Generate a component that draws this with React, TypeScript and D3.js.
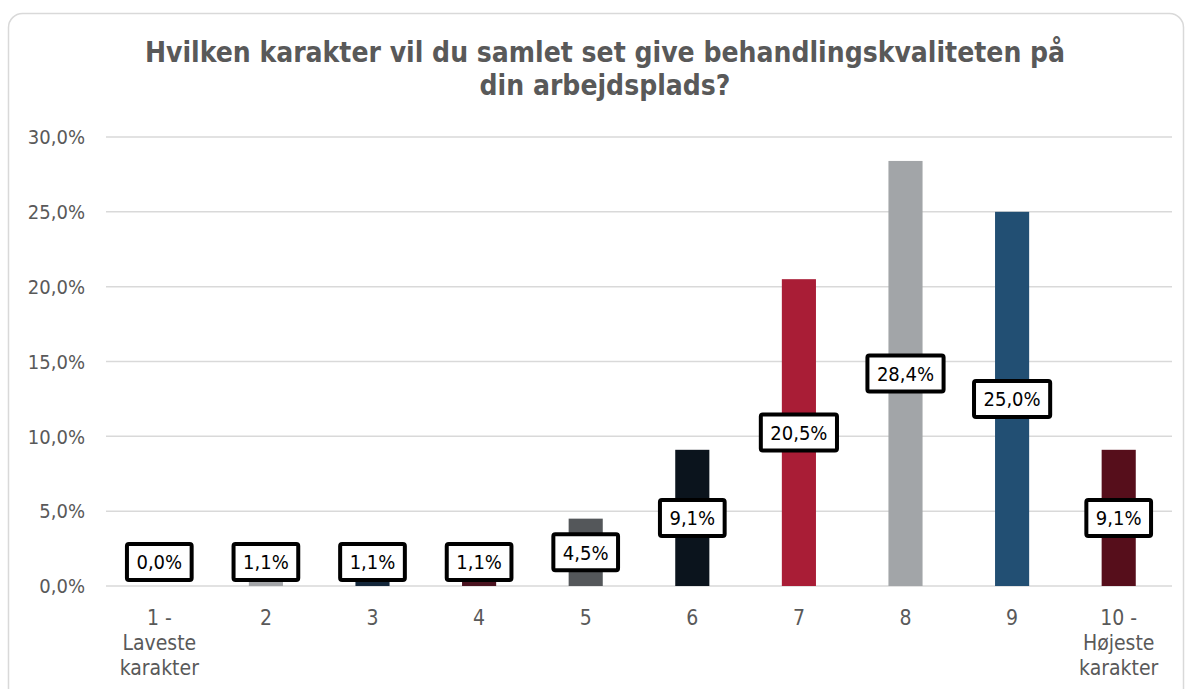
import React, { useEffect, useRef } from "react";
import * as d3 from "d3";

const categories = ["1 -\nLaveste\nkarakter", "2", "3", "4", "5", "6", "7", "8", "9", "10 -\nHøjeste\nkarakter"];
const values = [0.0, 1.1, 1.1, 1.1, 4.5, 9.1, 20.5, 28.4, 25.0, 9.1];
const barColors = ["#7f7f7f", "#a3a5a8", "#13263a", "#4a1320", "#54575a", "#0b141d", "#a91d36", "#a2a5a8", "#224f73", "#560e1b"];
const yTicks = [0, 5, 10, 15, 20, 25, 30];
const titleLines = ["Hvilken karakter vil du samlet set give behandlingskvaliteten på", "din arbejdsplads?"];

const W = 1186;
const H = 689;
const FONT = "'DejaVu Sans Condensed', 'DejaVu Sans', sans-serif";

export default function App() {
  const ref = useRef<SVGSVGElement | null>(null);

  useEffect(() => {
    const svg = d3.select(ref.current);
    svg.selectAll("*").remove();

    const x = d3.scaleBand<string>().domain(categories).range([106, 1172]).padding(0);
    const y = d3.scaleLinear().domain([0, 30]).range([586, 137]);
    const barW = x.bandwidth() * 0.32;

    svg.append("rect").attr("x", 0).attr("y", 0).attr("width", W).attr("height", H).attr("fill", "#ffffff");
    svg.append("rect")
      .attr("x", 8.5).attr("y", 13.5).attr("width", 1175).attr("height", 720)
      .attr("rx", 14).attr("fill", "#ffffff").attr("stroke", "#d9d9d9").attr("stroke-width", 1.5);

    // title
    const title = svg.append("text")
      .attr("text-anchor", "middle")
      .attr("font-family", FONT).attr("font-weight", "bold").attr("font-size", 28)
      .attr("fill", "#595959");
    titleLines.forEach((t, i) => {
      title.append("tspan").attr("x", 605).attr("y", 62 + i * 33).text(t);
    });

    // gridlines
    svg.append("g").selectAll("line").data(yTicks).join("line")
      .attr("x1", 106).attr("x2", 1172)
      .attr("y1", (d) => y(d)).attr("y2", (d) => y(d))
      .attr("stroke", "#d9d9d9").attr("stroke-width", 1.5);

    // y tick labels
    svg.append("g").selectAll("text").data(yTicks).join("text")
      .attr("x", 85).attr("y", (d) => y(d))
      .attr("dy", "0.36em")
      .attr("text-anchor", "end")
      .attr("font-family", FONT).attr("font-size", 20).attr("fill", "#595959")
      .text((d) => d.toFixed(1).replace(".", ",") + "%");

    // bars
    svg.append("g").selectAll("rect").data(values).join("rect")
      .attr("x", (_, i) => (x(categories[i]) as number) + x.bandwidth() / 2 - barW / 2)
      .attr("width", barW)
      .attr("y", (d) => y(d))
      .attr("height", (d) => y(0) - y(d))
      .attr("fill", (_, i) => barColors[i]);

    // category labels
    const cat = svg.append("g");
    categories.forEach((c, i) => {
      const t = cat.append("text")
        .attr("text-anchor", "middle")
        .attr("font-family", FONT).attr("font-size", 21).attr("fill", "#595959");
      c.split("\n").forEach((line, j) => {
        t.append("tspan").attr("x", (x(c) as number) + x.bandwidth() / 2).attr("y", 625 + j * 25).text(line);
      });
    });

    // data labels
    const lbl = svg.append("g");
    values.forEach((v, i) => {
      const cx = (x(categories[i]) as number) + x.bandwidth() / 2;
      const cy = Math.min(y(v / 2), y(0) - 24);
      const g = lbl.append("g");
      const rect = g.append("rect");
      const txt = g.append("text")
        .attr("x", cx).attr("y", cy).attr("dy", "0.36em")
        .attr("text-anchor", "middle")
        .attr("font-family", FONT).attr("font-size", 20).attr("fill", "#000000")
        .text(v.toFixed(1).replace(".", ",") + "%");
      const tw = (txt.node() as SVGTextElement).getComputedTextLength();
      const bw = tw + 19;
      const bh = 36;
      rect.attr("x", cx - bw / 2).attr("y", cy - bh / 2).attr("width", bw).attr("height", bh)
        .attr("rx", 2).attr("fill", "#ffffff").attr("stroke", "#000000").attr("stroke-width", 4);
    });
  }, []);

  return (
    <svg
      ref={ref}
      width={W}
      height={H}
      style={{ position: "absolute", left: 0, top: 0, display: "block" }}
    />
  );
}
